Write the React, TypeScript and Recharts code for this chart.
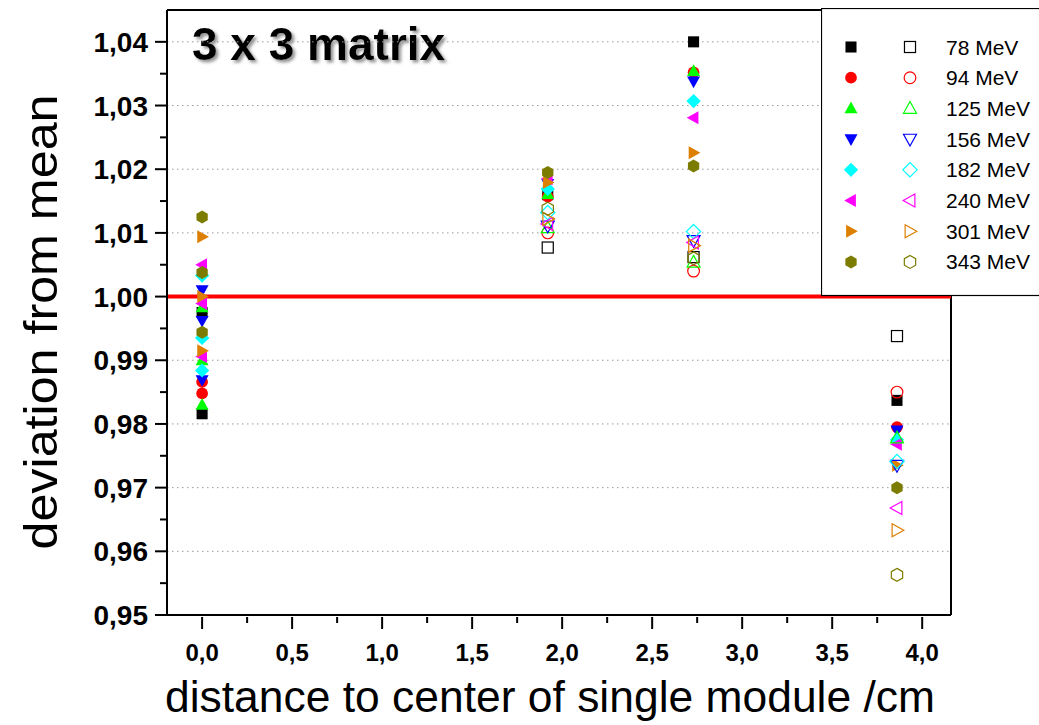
import React from "react";
import {
  ScatterChart,
  Scatter,
  XAxis,
  YAxis,
  ReferenceLine,
  Legend,
  Label,
} from "recharts";

// beam energies, marker colours and marker shapes, one entry per energy
const energies = ["78 MeV", "94 MeV", "125 MeV", "156 MeV", "182 MeV", "240 MeV", "301 MeV", "343 MeV"];
const colors = ["#000000", "#ff0000", "#00ff00", "#0000ff", "#00ffff", "#ff00ff", "#dd7f00", "#7c7c00"];
const shapes = ["square", "circle", "up", "down", "diamond", "left", "right", "hexagon"];

// measured positions (cm from the centre of the single module)
const positions = [0, 1.92, 2.73, 3.86];

// solid markers: readings at the centre (several per energy), then at 1.92, 2.73, 3.86 cm
const solidCentre = [
  [0.9816, 0.9975],
  [0.9848, 0.9866],
  [0.983, 0.9983, 0.99],
  [0.9869, 1.001, 0.9962],
  [0.9884, 1.0033, 0.9935],
  [1.005, 0.9989, 0.9906],
  [1.0094, 1.0, 0.9915],
  [1.0125, 1.0038, 0.9944],
];
const solidOuter = [
  [1.016, 1.04, 0.9837],
  [1.0157, 1.0352, 0.9795],
  [1.0161, 1.0354, 0.9779],
  [1.0177, 1.0338, 0.979],
  [1.0169, 1.0307, 0.9775],
  [1.0185, 1.0281, 0.9768],
  [1.0179, 1.0226, 0.9735],
  [1.0195, 1.0205, 0.97],
];
// open markers at 1.92, 2.73, 3.86 cm
const openOuter = [
  [1.0077, 1.0062, 0.9938],
  [1.01, 1.004, 0.985],
  [1.0108, 1.0054, 0.9778],
  [1.0111, 1.0088, 0.9735],
  [1.0132, 1.0102, 0.9741],
  [1.0114, 1.0085, 0.9668],
  [1.0122, 1.008, 0.9633],
  [1.0138, 1.006, 0.9563],
];

const yMajor = [0.95, 0.96, 0.97, 0.98, 0.99, 1.0, 1.01, 1.02, 1.03, 1.04];
const yTicks = [0.95, 0.955, 0.96, 0.965, 0.97, 0.975, 0.98, 0.985, 0.99, 0.995, 1.0, 1.005, 1.01, 1.015, 1.02, 1.025, 1.03, 1.035, 1.04];
const xTicks = [0, 0.25, 0.5, 0.75, 1, 1.25, 1.5, 1.75, 2, 2.25, 2.5, 2.75, 3, 3.25, 3.5, 3.75, 4];

const xDomain: [number, number] = [-0.195, 4.16];
const yDomain: [number, number] = [0.95, 1.045];

const FONT = "'Liberation Sans', Arial, sans-serif";

function Marker({ cx, cy, shape, color, solid, s = 6.5 }: any) {
  const fill = solid ? color : "none";
  const stroke = color;
  const sw = solid ? 0 : 1.2;
  const common = { fill, stroke, strokeWidth: sw };
  const pts = (arr: number[][]) => arr.map((p) => `${cx + p[0]},${cy + p[1]}`).join(" ");
  switch (shape) {
    case "square":
      return <rect x={cx - s * 0.85} y={cy - s * 0.85} width={s * 1.7} height={s * 1.7} {...common} />;
    case "circle":
      return <circle cx={cx} cy={cy} r={s * 0.9} {...common} />;
    case "up":
      return <polygon points={pts([[0, -s * 1.05], [s, s * 0.75], [-s, s * 0.75]])} {...common} />;
    case "down":
      return <polygon points={pts([[0, s * 1.05], [s, -s * 0.75], [-s, -s * 0.75]])} {...common} />;
    case "diamond":
      return <polygon points={pts([[0, -s * 1.1], [s * 1.1, 0], [0, s * 1.1], [-s * 1.1, 0]])} {...common} />;
    case "left":
      return <polygon points={pts([[-s * 1.05, 0], [s * 0.75, -s], [s * 0.75, s]])} {...common} />;
    case "right":
      return <polygon points={pts([[s * 1.05, 0], [-s * 0.75, -s], [-s * 0.75, s]])} {...common} />;
    default: {
      const h = s * 1.0;
      return (
        <polygon
          points={pts([[0, -h], [h * 0.87, -h / 2], [h * 0.87, h / 2], [0, h], [-h * 0.87, h / 2], [-h * 0.87, -h / 2]])}
          {...common}
        />
      );
    }
  }
}

const fmt = (v: number, d: number) => v.toFixed(d).replace(".", ",");

function YTick({ x, y, payload }: any) {
  const v = payload.value;
  const major = Math.abs(v * 100 - Math.round(v * 100)) < 1e-6;
  return (
    <g>
      <line x1={x - (major ? 12 : 7)} x2={x} y1={y} y2={y} stroke="#000" strokeWidth={2} />
      {major && (
        <text x={x - 19} y={y + 10} textAnchor="end" fontFamily={FONT} fontWeight="bold" fontSize={28} fill="#000">
          {fmt(v, 2)}
        </text>
      )}
    </g>
  );
}

function XTick({ x, y, payload }: any) {
  const v = payload.value;
  const major = Math.abs(v * 2 - Math.round(v * 2)) < 1e-6;
  return (
    <g>
      <line x1={x} x2={x} y1={y + 2} y2={y + (major ? 14 : 8)} stroke="#000" strokeWidth={2} />
      {major && (
        <text x={x} y={y + 46} textAnchor="middle" fontFamily={FONT} fontWeight="bold" fontSize={24} fill="#000">
          {fmt(v, 1)}
        </text>
      )}
    </g>
  );
}

function EnergyLegend() {
  return (
    <svg width={218} height={290} style={{ display: "block" }}>
      <rect x={0.5} y={0.5} width={230} height={287} fill="#fff" stroke="#000" strokeWidth={1.2} />
      {energies.map((e, i) => {
        const cy = 39 + i * 30.7;
        return (
          <g key={e}>
            <Marker cx={30} cy={cy} shape={shapes[i]} color={colors[i]} solid />
            <Marker cx={89} cy={cy} shape={shapes[i]} color={colors[i]} solid={false} />
            <text x={125} y={cy + 7.5} fontFamily={FONT} fontSize={21} fill="#000">
              {e}
            </text>
          </g>
        );
      })}
    </svg>
  );
}

export default function App() {
  const solidSeries = energies.map((_, i) => [
    ...solidCentre[i].map((y) => ({ x: positions[0], y })),
    ...solidOuter[i].map((y, j) => ({ x: positions[j + 1], y })),
  ]);
  const openSeries = energies.map((_, i) => openOuter[i].map((y, j) => ({ x: positions[j + 1], y })));

  return (
    <div style={{ position: "absolute", left: 0, top: 0, width: 1039, height: 725, overflow: "hidden", background: "#fff" }}>
      <ScatterChart width={1039} height={725} margin={{ top: 10, right: 88, bottom: 50, left: 0 }}>
        <defs>
          <filter id="titleShadow" x="-10%" y="-30%" width="130%" height="170%">
            <feDropShadow dx="2.5" dy="2.5" stdDeviation="1.5" floodColor="#777" floodOpacity="0.8" />
          </filter>
        </defs>
        <XAxis
          type="number"
          dataKey="x"
          domain={xDomain}
          ticks={xTicks}
          interval={0}
          allowDataOverflow
          height={60}
          tickSize={0}
          tickMargin={0}
          tickLine={false}
          tick={<XTick />}
          axisLine={{ stroke: "#000", strokeWidth: 2 }}
        >
          <Label
            content={() => (
              <text x={550} y={712} textAnchor="middle" fontFamily={FONT} fontSize={44} textLength={770} lengthAdjust="spacingAndGlyphs" fill="#000">
                distance to center of single module /cm
              </text>
            )}
          />
        </XAxis>
        <YAxis
          type="number"
          dataKey="y"
          domain={yDomain}
          ticks={yTicks}
          interval={0}
          allowDataOverflow
          width={167}
          tickSize={0}
          tickMargin={0}
          tickLine={false}
          tick={<YTick />}
          axisLine={{ stroke: "#000", strokeWidth: 2 }}
        >
          <Label
            content={() => (
              <text
                x={57}
                y={322}
                transform="rotate(-90 57 322)"
                textAnchor="middle"
                fontFamily={FONT}
                fontSize={46}
                textLength={455}
                lengthAdjust="spacingAndGlyphs"
                fill="#000"
              >
                deviation from mean
              </text>
            )}
          />
        </YAxis>
        {yMajor
          .filter((v) => v !== 0.95 && v !== 1.0)
          .map((v) => (
            <ReferenceLine key={v} y={v} stroke="#9a9a9a" strokeWidth={1} strokeDasharray="1.5 3.5" />
          ))}
        <ReferenceLine y={yDomain[1]} stroke="#000" strokeWidth={2} />
        <ReferenceLine x={xDomain[1]} stroke="#000" strokeWidth={2} />
        <ReferenceLine y={1.0} stroke="#ff0000" strokeWidth={4} />
        {energies.map((e, i) => (
          <Scatter
            key={"s" + e}
            name={e}
            data={solidSeries[i]}
            isAnimationActive={false}
            shape={(p: any) => <Marker cx={p.cx} cy={p.cy} shape={shapes[i]} color={colors[i]} solid />}
          />
        ))}
        {energies.map((e, i) => (
          <Scatter
            key={"o" + e}
            name={e + " open"}
            data={openSeries[i]}
            isAnimationActive={false}
            shape={(p: any) => <Marker cx={p.cx} cy={p.cy} shape={shapes[i]} color={colors[i]} solid={false} />}
          />
        ))}
        <Legend
          layout="vertical"
          align="center"
          verticalAlign="middle"
          content={() => <EnergyLegend />}
          wrapperStyle={{ position: "absolute", left: 821, top: 8, width: 218, height: 290 }}
        />
        <text x={192} y={60} fontFamily={FONT} fontWeight="bold" fontSize={46} fill="#000" filter="url(#titleShadow)">
          3 x 3 matrix
        </text>
      </ScatterChart>
    </div>
  );
}
